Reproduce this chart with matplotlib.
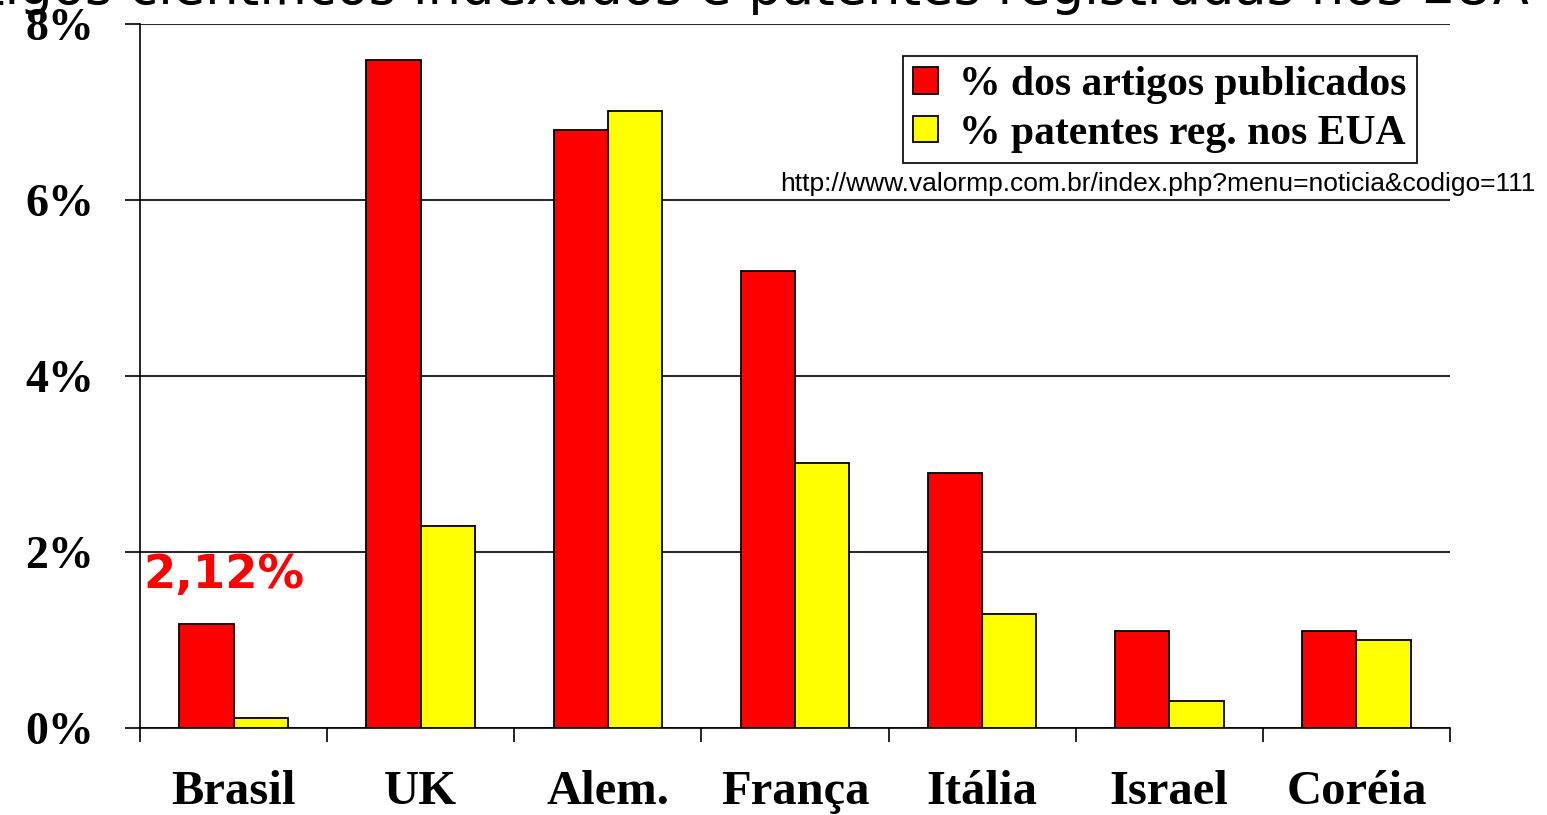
import matplotlib.pyplot as plt
import numpy as np

paises = ['Brasil', 'UK', 'Alem.', 'França', 'Itália', 'Israel', 'Coréia']
artigos = [1.18, 7.59, 6.80, 5.19, 2.90, 1.10, 1.10]
patentes = [0.11, 2.30, 7.01, 3.01, 1.30, 0.31, 1.00]
yticks = [0, 2, 4, 6, 8]
ylabels = ['0%', '2%', '4%', '6%', '8%']

fig = plt.figure(figsize=(15.47, 8.15), dpi=100)
ax = fig.add_axes([140 / 1547, 1 - 728 / 815, 1310 / 1547, 704 / 815])

x = np.arange(len(paises))
w = 0.29
ax.bar(x - w / 2, artigos, w, color='#ff0000', edgecolor='black', linewidth=1.3,
       label='% dos artigos publicados', zorder=3)
ax.bar(x + w / 2, patentes, w, color='#ffff00', edgecolor='black', linewidth=1.3,
       label='% patentes reg. nos EUA', zorder=3)

ax.set_xlim(-0.5, len(paises) - 0.5)
ax.set_ylim(0, 8)
ax.set_yticks(yticks)
ax.set_yticklabels(ylabels, family='Liberation Serif', weight='bold', fontsize=33)
ax.set_xticks(x)
ax.set_xticklabels(paises, family='Liberation Serif', weight='bold', fontsize=35)
ax.set_xticks(np.arange(len(paises) + 1) - 0.5, minor=True)
ax.tick_params(axis='x', which='major', length=0, pad=30)
ax.tick_params(axis='x', which='minor', length=10, width=1.2, direction='out')
ax.tick_params(axis='y', length=11, width=1.2, pad=22)
for s in ['top', 'right']:
    ax.spines[s].set_visible(False)
for s in ['left', 'bottom']:
    ax.spines[s].set_linewidth(1.2)
ax.yaxis.grid(True, color='black', linewidth=1.2, zorder=0)
ax.set_axisbelow(True)

leg = ax.legend(loc='upper left', bbox_to_anchor=((903 - 140) / 1310, 1 - (56 - 24) / 704),
                prop={'family': 'Liberation Serif', 'weight': 'bold', 'size': 30},
                fancybox=False, edgecolor='black', framealpha=1, borderpad=0.25,
                handlelength=0.6, handleheight=0.6, handletextpad=0.5, labelspacing=0.25,
                borderaxespad=0)
leg.get_frame().set_linewidth(1.2)

ax.text(0.0025, 0.249, '2,12%', transform=ax.transAxes,
        color='#ff0000', fontsize=33.5, weight='bold', family='DejaVu Sans',
        ha='left', va='top')

fig.text(780 / 1547, 1 - 184 / 815, 'http://www.valormp.com.br/index.php?menu=noticia&codigo=111',
         family='Liberation Sans', fontsize=19, ha='left', va='center')

fig.text(0.47, 1 - 4 / 815, 'Artigos científicos indexados e patentes registradas nos EUA',
         family='DejaVu Sans', fontsize=38, ha='center', va='baseline')

fig.savefig('out.png', dpi=100)
